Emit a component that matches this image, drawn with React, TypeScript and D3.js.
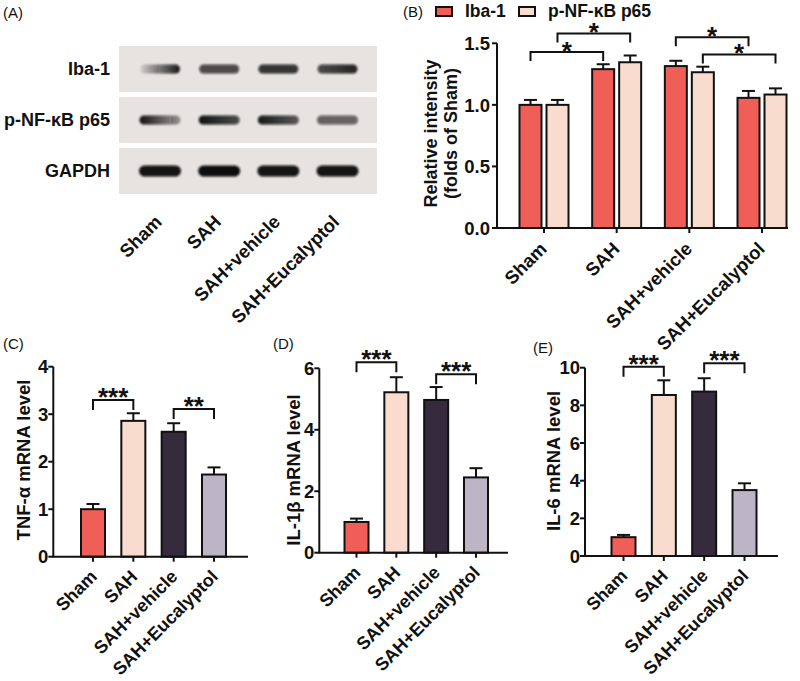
import React from "react";
import * as d3 from "d3";

// ---------- DATA ----------
const categories = ["Sham", "SAH", "SAH+vehicle", "SAH+Eucalyptol"];

// Western blot (band darkness at left / right edge of each lane, 0..1)
const blotRows = ["Iba-1", "p-NF-κB p65", "GAPDH"];
const blotIbaLeft = [0.08, 0.72, 0.82, 0.72];
const blotIbaRight = [0.97, 0.72, 0.82, 0.9];
const blotP65Left = [0.98, 0.98, 0.95, 0.62];
const blotP65Right = [0.35, 0.72, 0.66, 0.6];
const blotGapdhLeft = [0.97, 1.0, 0.97, 0.97];
const blotGapdhRight = [0.97, 1.0, 0.97, 0.97];

// Panel B
const seriesB = ["Iba-1", "p-NF-κB p65"];
const ibaMean = [1.0, 1.29, 1.315, 1.057];
const ibaErr = [0.04, 0.04, 0.043, 0.056];
const p65Mean = [1.0, 1.346, 1.265, 1.084];
const p65Err = [0.04, 0.055, 0.045, 0.05];
const ticksB = [0, 0.5, 1.0, 1.5];
const sigB = [
  { a: 0, sa: 0, b: 1, sb: 0, level: 1.43, text: "*" },
  { a: 0, sa: 1, b: 1, sb: 1, level: 1.58, text: "*" },
  { a: 2, sa: 0, b: 3, sb: 0, level: 1.55, text: "*" },
  { a: 2, sa: 1, b: 3, sb: 1, level: 1.41, text: "*" },
];

// Panel C
const tnfMean = [1.0, 2.86, 2.63, 1.73];
const tnfErr = [0.11, 0.16, 0.18, 0.15];
const ticksC = [0, 1, 2, 3, 4];
const sigC = [
  { a: 0, b: 1, level: 3.3, text: "***" },
  { a: 2, b: 3, level: 3.11, text: "**" },
];

// Panel D
const il1bMean = [1.0, 5.22, 4.97, 2.45];
const il1bErr = [0.11, 0.49, 0.42, 0.3];
const ticksD = [0, 2, 4, 6];
const sigD = [
  { a: 0, b: 1, level: 6.2, text: "***" },
  { a: 2, b: 3, level: 5.81, text: "***" },
];

// Panel E
const il6Mean = [1.0, 8.55, 8.73, 3.5];
const il6Err = [0.12, 0.78, 0.71, 0.36];
const ticksE = [0, 2, 4, 6, 8, 10];
const sigE = [
  { a: 0, b: 1, level: 10.05, text: "***" },
  { a: 2, b: 3, level: 10.23, text: "***" },
];

// ---------- STYLE ----------
const FONT = "'Liberation Sans', Arial, Helvetica, sans-serif";
const INK = "#111111";
const barColors = ["#ef5f58", "#f8ddce", "#352b3d", "#bcb5c5"];

// ---------- COMPONENTS ----------
function YAxis({ x, yScale, ticks, fmt, gap }) {
  const top = yScale(ticks[ticks.length - 1]);
  const bottom = yScale(ticks[0]);
  return (
    <g>
      <line x1={x} x2={x} y1={top} y2={bottom} stroke={INK} strokeWidth={2} />
      {ticks.map((t) => (
        <g key={t}>
          <line x1={x - 5} x2={x} y1={yScale(t)} y2={yScale(t)} stroke={INK} strokeWidth={2} />
          <text x={x - gap} y={yScale(t)} dy="0.36em" textAnchor="end" fontSize={18.5} fontWeight="bold">
            {fmt(t)}
          </text>
        </g>
      ))}
    </g>
  );
}

function XAxis({ x0, x1, y, xScale, labelDx, labelDy, fontSize }) {
  return (
    <g>
      <line x1={x0 - 1} x2={x1} y1={y} y2={y} stroke={INK} strokeWidth={2} />
      {categories.map((c) => (
        <g key={c}>
          <line x1={xScale(c)} x2={xScale(c)} y1={y} y2={y + 5} stroke={INK} strokeWidth={2} />
          <text
            transform={`translate(${xScale(c) + labelDx},${y + labelDy}) rotate(-45)`}
            textAnchor="end"
            fontSize={fontSize}
            fontWeight="bold"
          >
            {c}
          </text>
        </g>
      ))}
    </g>
  );
}

function Bracket({ xa, xb, y, text, drop = 10, starDy = 6 }) {
  return (
    <g>
      <path
        d={`M${xa},${y + drop}V${y}H${xb}V${y + drop}`}
        fill="none"
        stroke={INK}
        strokeWidth={2}
      />
      <text x={(xa + xb) / 2} y={y + starDy} textAnchor="middle" fontSize={26} fontWeight="bold">
        {text}
      </text>
    </g>
  );
}

function Bar({ cx, w, mean, err, y0, yScale, fill }) {
  const yt = yScale(mean);
  const ye = yScale(mean + err);
  return (
    <g>
      <line x1={cx} x2={cx} y1={yt} y2={ye} stroke={INK} strokeWidth={2} />
      <line x1={cx - 6.5} x2={cx + 6.5} y1={ye} y2={ye} stroke={INK} strokeWidth={2} />
      <rect x={cx - w / 2} y={yt} width={w} height={y0 - yt} fill={fill} stroke={INK} strokeWidth={2} />
    </g>
  );
}

function BlotPanel() {
  const lane = d3.scalePoint().domain(categories).range([160, 337.5]);
  const rowTop = d3.scalePoint().domain(blotRows).range([46, 148]);
  const rows = [
    { name: blotRows[0], left: blotIbaLeft, right: blotIbaRight, h: 9, w: 40 },
    { name: blotRows[1], left: blotP65Left, right: blotP65Right, h: 9, w: 41 },
    { name: blotRows[2], left: blotGapdhLeft, right: blotGapdhRight, h: 11, w: 42 },
  ];
  const boxH = 46;
  return (
    <g>
      <defs>
        <filter id="blur" x="-20%" y="-80%" width="140%" height="260%">
          <feGaussianBlur stdDeviation="1.3" />
        </filter>
        {rows.map((r, ri) =>
          categories.map((c, ci) => (
            <linearGradient key={`${ri}-${ci}`} id={`bg-${ri}-${ci}`} x1="0" x2="1" y1="0" y2="0">
              <stop offset="0%" stopColor="#0d0d0d" stopOpacity={r.left[ci]} />
              <stop offset="100%" stopColor="#0d0d0d" stopOpacity={r.right[ci]} />
            </linearGradient>
          ))
        )}
      </defs>
      <text x={3} y={18} fontSize={15} fontFamily={FONT}>(A)</text>
      {rows.map((r, ri) => {
        const top = rowTop(r.name);
        const cy = top + boxH / 2;
        return (
          <g key={r.name}>
            <rect x={119} y={top} width={258} height={boxH} fill="#e6e3e0" />
            <text x={110} y={cy + 6} textAnchor="end" fontSize={18} fontWeight="bold">
              {r.name}
            </text>
            <g filter="url(#blur)">
              {categories.map((c, ci) => (
                <rect
                  key={c}
                  x={lane(c) - r.w / 2}
                  y={cy - r.h / 2}
                  width={r.w}
                  height={r.h}
                  rx={r.h / 2}
                  fill={`url(#bg-${ri}-${ci})`}
                />
              ))}
            </g>
          </g>
        );
      })}
      {categories.map((c) => (
        <text
          key={c}
          transform={`translate(${lane(c) + 3},${223}) rotate(-45)`}
          textAnchor="end"
          fontSize={18.5}
          fontWeight="bold"
        >
          {c}
        </text>
      ))}
    </g>
  );
}

function PanelB() {
  const axisX = 497;
  const y0 = 228;
  const yScale = d3.scaleLinear().domain([0, 1.5]).range([y0, 43.3]);
  const xScale = d3.scalePoint().domain(categories).range([544, 762]);
  const off = 13.5;
  const bw = 22;
  const means = [ibaMean, p65Mean];
  const errs = [ibaErr, p65Err];
  const cx = (ci, si) => xScale(categories[ci]) + (si === 0 ? -off : off);
  return (
    <g>
      <text x={403} y={17} fontSize={15} fontFamily={FONT}>(B)</text>
      {seriesB.map((s, si) => (
        <g key={s}>
          <rect x={436} y={7} transform={`translate(${si * 83},0)`} width={16} height={9} fill={barColors[si]} stroke={INK} strokeWidth={2} />
          <text x={465 + si * 83} y={16.5} fontSize={17.5} fontWeight="bold">{s}</text>
        </g>
      ))}
      {categories.map((c, ci) =>
        seriesB.map((s, si) => (
          <Bar
            key={`${c}-${s}`}
            cx={cx(ci, si)}
            w={bw}
            mean={means[si][ci]}
            err={errs[si][ci]}
            y0={y0}
            yScale={yScale}
            fill={barColors[si]}
          />
        ))
      )}
      <YAxis x={axisX} yScale={yScale} ticks={ticksB} fmt={d3.format(".1f")} gap={7} />
      <XAxis x0={axisX} x1={788} y={y0} xScale={xScale} labelDx={4} labelDy={22} fontSize={18.5} />
      {sigB.map((g, i) => (
        <Bracket key={i} xa={cx(g.a, g.sa)} xb={cx(g.b, g.sb)} y={yScale(g.level)} text={g.text} drop={9} starDy={8} />
      ))}
      <text transform={`translate(437,133.5) rotate(-90)`} textAnchor="middle" fontSize={18} fontWeight="bold">
        Relative intensity
      </text>
      <text transform={`translate(457,133.5) rotate(-90)`} textAnchor="middle" fontSize={18} fontWeight="bold">
        (folds of Sham)
      </text>
    </g>
  );
}

function SimplePanel({ tag, tagX, tagY, ylabel, ylabX, ylabY, means, errs, ticks, sig, axisX, axisEnd, y0, yTop, c0, c3 }) {
  const yScale = d3.scaleLinear().domain([0, ticks[ticks.length - 1]]).range([y0, yTop]);
  const xScale = d3.scalePoint().domain(categories).range([c0, c3]);
  return (
    <g>
      <text x={tagX} y={tagY} fontSize={15} fontFamily={FONT}>{tag}</text>
      {categories.map((c, ci) => (
        <Bar key={c} cx={xScale(c)} w={24} mean={means[ci]} err={errs[ci]} y0={y0} yScale={yScale} fill={barColors[ci]} />
      ))}
      <YAxis x={axisX} yScale={yScale} ticks={ticks} fmt={d3.format("d")} gap={5} />
      <XAxis x0={axisX} x1={axisEnd} y={y0} xScale={xScale} labelDx={5} labelDy={21} fontSize={18} />
      {sig.map((g, i) => (
        <Bracket key={i} xa={xScale(categories[g.a])} xb={xScale(categories[g.b])} y={yScale(g.level)} text={g.text} />
      ))}
      <text transform={`translate(${ylabX},${ylabY}) rotate(-90)`} textAnchor="middle" fontSize={18.5} fontWeight="bold">
        {ylabel}
      </text>
    </g>
  );
}

export default function App() {
  return (
    <svg width={800} height={681} style={{ display: "block", position: "absolute", left: 0, top: 0, background: "#fff" }} fontFamily={FONT} fill={INK}>
      <rect width={800} height={681} fill="#ffffff" />
      <BlotPanel />
      <PanelB />
      <SimplePanel
        tag="(C)" tagX={3} tagY={349}
        ylabel="TNF-α mRNA level" ylabX={30} ylabY={460}
        means={tnfMean} errs={tnfErr} ticks={ticksC} sig={sigC}
        axisX={53.3} axisEnd={248} y0={556.7} yTop={366.7} c0={93} c3={214}
      />
      <SimplePanel
        tag="(D)" tagX={273} tagY={349}
        ylabel="IL-1β mRNA level" ylabX={300} ylabY={470}
        means={il1bMean} errs={il1bErr} ticks={ticksD} sig={sigD}
        axisX={319.3} axisEnd={508} y0={552.7} yTop={368.3} c0={356.5} c3={476}
      />
      <SimplePanel
        tag="(E)" tagX={533} tagY={353}
        ylabel="IL-6 mRNA level" ylabX={560} ylabY={461}
        means={il6Mean} errs={il6Err} ticks={ticksE} sig={sigE}
        axisX={585} axisEnd={778} y0={556} yTop={367.7} c0={623.5} c3={744.5}
      />
    </svg>
  );
}
